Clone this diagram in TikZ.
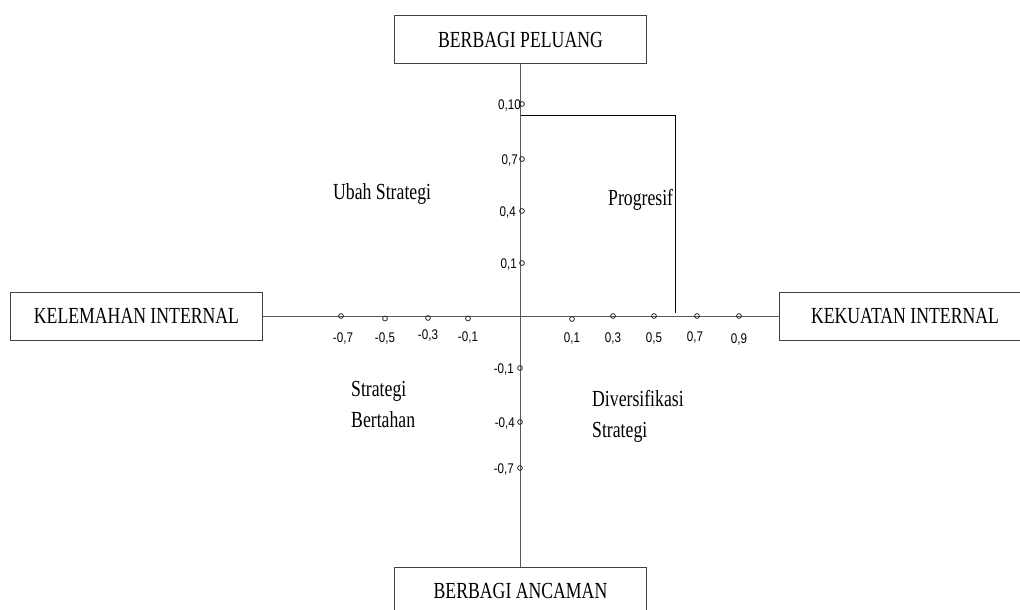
\documentclass[tikz,border=0pt]{standalone}
\usepackage{fontspec}
\setmainfont{Liberation Serif}
\newfontfamily\serifc[FakeStretch=0.77]{Liberation Serif}
\newfontfamily\sansc[FakeStretch=0.83]{Liberation Sans}
\begin{document}
\begin{tikzpicture}[x=1pt,y=-1pt,
  box/.style={draw=black!75, line width=0.9pt, minimum width=252pt, minimum height=48pt, inner sep=0pt, font=\serifc\fontsize{23}{26}\selectfont},
  axis/.style={draw=black!65, line width=1pt},
  tick/.style={circle, draw=black!85, line width=0.8pt, inner sep=0pt, minimum size=4.8pt},
  tlab/.style={font=\sansc\fontsize{14}{16}\selectfont, inner sep=0pt},
  qlab/.style={font=\serifc\fontsize{23}{26}\selectfont, inner sep=0pt, anchor=base west},
  bracket/.style={draw=black, line width=0.9pt}]
\useasboundingbox (0,0) rectangle (1020,610);

% boxes
\node[box] (peluang) at (520.5,39.5) {BERBAGI PELUANG};
\node[box, anchor=north] (ancaman) at (520.5,567) {BERBAGI ANCAMAN};
\node[box] (lemah) at (136.5,316) {KELEMAHAN INTERNAL};
\node[box] (kuat) at (905,316) {KEKUATAN INTERNAL};

% axes
\draw[axis] (peluang.south) -- (ancaman.north);
\draw[axis] (lemah.east) -- (kuat.west);

% bracket (Progresif)
\coordinate (b0) at (520.5,115);
\coordinate (b1) at (675,115);
\coordinate (b2) at (675,313);
\draw[bracket] (b0) -- (b1) -- (b2);

% horizontal ticks
\node[tick] (hm7) at (341,316) {};
\node[tick] (hm5) at (385,318.5) {};
\node[tick] (hm3) at (428,318) {};
\node[tick] (hm1) at (468,318.5) {};
\node[tick] (hp1) at (572,319) {};
\node[tick] (hp3) at (613,316) {};
\node[tick] (hp5) at (654,316) {};
\node[tick] (hp7) at (697,316) {};
\node[tick] (hp9) at (739,316) {};
\node[tlab, anchor=base] (lm7) at (343,342) {-0,7};
\node[tlab, anchor=base] (lm5) at (385,342) {-0,5};
\node[tlab, anchor=base] (lm3) at (428,339) {-0,3};
\node[tlab, anchor=base] (lm1) at (468,341) {-0,1};
\node[tlab, anchor=base] (lp1) at (572,342) {0,1};
\node[tlab, anchor=base] (lp3) at (613,342) {0,3};
\node[tlab, anchor=base] (lp5) at (654,342) {0,5};
\node[tlab, anchor=base] (lp7) at (695,341) {0,7};
\node[tlab, anchor=base] (lp9) at (739,343) {0,9};

% vertical ticks
\node[tick] (vp10) at (522,104) {};
\node[tick] (vp7) at (522,159) {};
\node[tick] (vp4) at (522,211) {};
\node[tick] (vp1) at (522,263) {};
\node[tick] (vm1) at (520,368) {};
\node[tick] (vm4) at (520,422) {};
\node[tick] (vm7) at (520,468) {};
\node[tlab, anchor=base east] (lvp10) at (521,109) {0,10};
\node[tlab, anchor=base east] (lvp7) at (518,164) {0,7};
\node[tlab, anchor=base east] (lvp4) at (516,216) {0,4};
\node[tlab, anchor=base east] (lvp1) at (517,268) {0,1};
\node[tlab, anchor=base east] (lvm1) at (514,373) {-0,1};
\node[tlab, anchor=base east] (lvm4) at (515,427) {-0,4};
\node[tlab, anchor=base east] (lvm7) at (514,473) {-0,7};

% quadrant labels
\node[qlab] (ubah) at (333,199) {Ubah Strategi};
\node[qlab] (prog) at (608,205) {Progresif};
\node[qlab] (sb1) at (351,396) {Strategi};
\node[qlab] (sb2) at (351,427) {Bertahan};
\node[qlab] (ds1) at (592,406) {Diversifikasi};
\node[qlab] (ds2) at (592,437) {Strategi};
\end{tikzpicture}
\end{document}
